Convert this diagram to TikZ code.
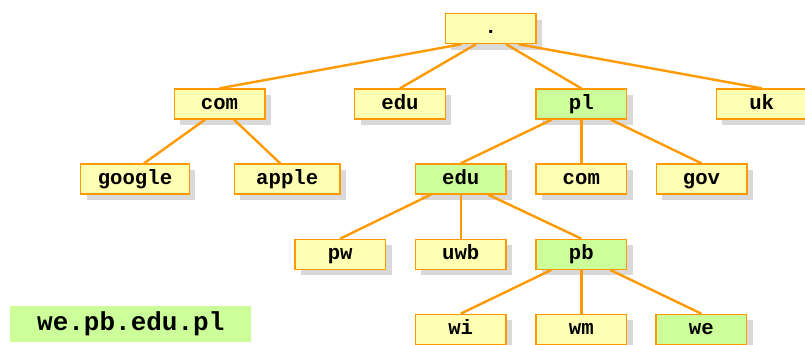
\documentclass[tikz,border=0pt]{standalone}
\usepackage{fontspec}
\setmonofont{Liberation Mono}
\usetikzlibrary{shadows,calc}
\definecolor{boxy}{HTML}{FFFFB3}
\definecolor{boxg}{HTML}{CCFF99}
\definecolor{orng}{HTML}{FF9900}
\definecolor{shd}{HTML}{D9D9D9}
\begin{document}
\begin{tikzpicture}[x=0.75pt,y=-0.75pt,
  dom/.style={draw=orng, line width=1pt, fill=boxy, minimum width=68pt, minimum height=22.5pt,
    inner sep=0pt, text height=10.5pt, text depth=2.5pt,
    font=\ttfamily\bfseries\fontsize{15.5}{18}\selectfont,
    drop shadow={shadow xshift=4.5pt, shadow yshift=-4.5pt, fill=shd, opacity=1}},
  domg/.style={dom, fill=boxg},
  edge/.style={draw=orng, line width=1.8pt}]
\useasboundingbox (0,0) rectangle (805,344);
% nodes
\node[dom] (root) at (490.7,28.5) {.};
\node[dom] (com) at (219.5,104) {com};
\node[dom] (edu) at (400,104) {edu};
\node[domg] (pl) at (581.3,104) {pl};
\node[dom] (uk) at (761.7,104) {uk};
\node[dom, minimum width=81.5pt] (google) at (135,179) {google};
\node[dom, minimum width=79.3pt] (apple) at (287.2,179) {apple};
\node[domg] (pledu) at (460.7,179) {edu};
\node[dom] (plcom) at (581.3,179) {com};
\node[dom] (gov) at (701.5,179) {gov};
\node[dom] (pw) at (340.2,254.3) {pw};
\node[dom] (uwb) at (460.7,254.3) {uwb};
\node[domg] (pb) at (581.3,254.3) {pb};
\node[dom] (wi) at (460.7,329.3) {wi};
\node[dom] (wm) at (581.3,329.3) {wm};
\node[domg] (we) at (701.3,329.3) {we};
% edges
\draw[edge] ($(root.south)+(-29,0)$) -- (com.north);
\draw[edge] ($(root.south)+(-14.7,0)$) -- (edu.north);
\draw[edge] ($(root.south)+(15.3,0)$) -- (pl.north);
\draw[edge] ($(root.south)+(27.6,0)$) -- (uk.north);
\draw[edge] ($(com.south)+(-14.5,0)$) -- ($(google.north)+(9,0)$);
\draw[edge] ($(com.south)+(14.5,0)$) -- ($(apple.north)+(-7,0)$);
\draw[edge] ($(pl.south)+(-29.5,0)$) -- (pledu.north);
\draw[edge] (pl.south) -- (plcom.north);
\draw[edge] ($(pl.south)+(29.5,0)$) -- (gov.north);
\draw[edge] ($(pledu.south)+(-30,0)$) -- (pw.north);
\draw[edge] (pledu.south) -- (uwb.north);
\draw[edge] ($(pledu.south)+(27.5,0)$) -- (pb.north);
\draw[edge] ($(pb.south)+(-30,0)$) -- (wi.north);
\draw[edge] (pb.south) -- (wm.north);
\draw[edge] ($(pb.south)+(29,0)$) -- (we.north);
% label
\node[fill=boxg, minimum width=180.75pt, minimum height=27pt, inner sep=0pt,
  text height=13pt, text depth=3pt,
  font=\ttfamily\bfseries\fontsize{19.5}{22}\selectfont] (lbl) at (130.8,324.3) {we.pb.edu.pl};
\end{tikzpicture}
\end{document}
